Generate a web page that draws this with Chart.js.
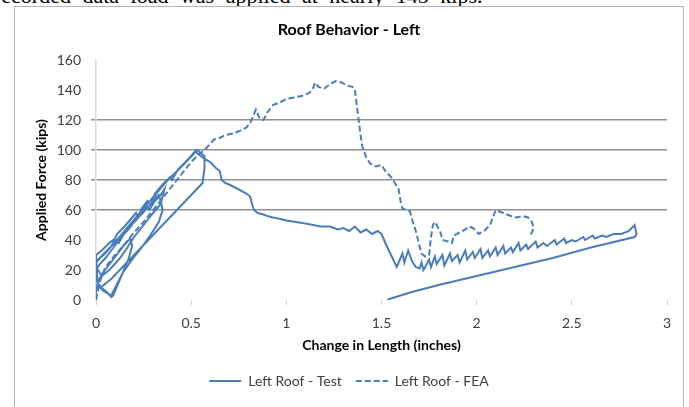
<!DOCTYPE html>
<html>
<head>
<meta charset="utf-8">
<script src="https://cdn.jsdelivr.net/npm/chart.js@4.4.1/dist/chart.umd.min.js"></script>
<style>
  body { margin: 0; background: #fff; width: 689px; height: 407px; overflow: hidden; position: relative; }
  #above { position: absolute; left: -6px; top: -17px; font: 22px "Liberation Serif"; white-space: nowrap; color: #000; word-spacing: 6px; }
  #frame { position: absolute; left: 14px; top: 6px; width: 670px; height: 420px; border: 1px solid #b5b5b5; background: #fff; box-sizing: border-box; }
  canvas { position: absolute; left: 0; top: 0; }
</style>
</head>
<body>
<div id="above">recorded data load was applied at nearly 145 kips.</div>
<div id="frame"></div>
<canvas id="graphique" width="689" height="407"></canvas>
<script>
// Left Roof - Test (solid), [inches, kips], in test order
const testLoops = [
  [0.00, 0], [0.00, 6], [0.01, 12], [0.03, 17], [0.06, 22], [0.09, 27], [0.12, 32], [0.15, 37], [0.18, 41],
  [0.19, 36], [0.17, 27], [0.14, 18], [0.11, 9], [0.09, 3], [0.08, 2], [0.06, 5], [0.03, 8], [0.01, 11], [0.00, 14],
  [0.00, 20], [0.02, 24], [0.05, 28], [0.08, 33], [0.11, 38], [0.14, 43], [0.17, 47], [0.20, 52], [0.23, 56],
  [0.26, 60], [0.29, 64], [0.31, 68], [0.33, 70], [0.34, 66], [0.35, 60], [0.33, 52], [0.29, 44], [0.24, 35],
  [0.19, 27], [0.14, 18], [0.10, 8], [0.08, 3], [0.04, 6], [0.01, 10], [0.00, 18],
  [0.00, 26], [0.04, 30], [0.07, 34], [0.10, 40], [0.12, 38], [0.15, 45], [0.18, 50], [0.21, 53], [0.24, 58],
  [0.27, 62], [0.28, 60], [0.31, 66], [0.34, 70], [0.36, 74], [0.34, 64], [0.30, 58], [0.25, 50], [0.20, 42],
  [0.16, 34], [0.12, 27], [0.07, 20], [0.03, 16], [0.00, 22],
  [0.00, 25], [0.02, 28], [0.05, 32], [0.09, 37], [0.13, 43], [0.17, 49], [0.21, 55], [0.25, 61], [0.29, 67],
  [0.33, 73], [0.37, 79], [0.41, 84], [0.45, 89], [0.48, 93], [0.51, 97], [0.53, 100], [0.55, 98], [0.57, 96],
  [0.57, 88], [0.56, 78], [0.50, 70], [0.44, 62], [0.38, 54], [0.32, 46], [0.26, 38], [0.20, 30], [0.14, 22],
  [0.08, 14], [0.03, 9], [0.01, 8],
  [0.00, 30], [0.03, 33], [0.07, 38], [0.10, 41], [0.11, 44], [0.15, 49], [0.19, 55], [0.21, 58], [0.22, 55],
  [0.24, 61], [0.27, 66], [0.29, 64], [0.31, 71], [0.35, 77], [0.39, 82], [0.40, 80], [0.43, 87], [0.47, 92],
  [0.50, 96], [0.52, 99], [0.54, 97]
];
const testDecline = [
  [0.57, 94], [0.60, 92], [0.63, 88], [0.65, 86], [0.66, 80], [0.68, 78], [0.70, 77], [0.73, 75], [0.76, 73],
  [0.79, 71], [0.81, 69], [0.82, 64], [0.83, 60], [0.85, 58], [0.88, 57], [0.90, 56], [0.93, 55], [0.97, 54],
  [1.00, 53], [1.05, 52], [1.10, 51], [1.14, 50], [1.18, 49], [1.23, 49], [1.27, 47], [1.30, 48], [1.33, 46],
  [1.36, 49], [1.39, 45], [1.42, 47], [1.45, 44], [1.48, 46], [1.50, 44], [1.52, 38], [1.55, 30], [1.58, 22],
  [1.60, 28], [1.61, 31], [1.62, 25], [1.64, 33], [1.66, 26], [1.68, 22], [1.70, 21], [1.71, 25], [1.72, 20], [1.73, 22]
];
const testTeeth = [
  [1.75, 27], [1.76, 22], [1.78, 29], [1.79, 24], [1.82, 30], [1.83, 23], [1.86, 31], [1.87, 26], [1.90, 30],
  [1.91, 25], [1.94, 33], [1.95, 27], [1.98, 32], [1.99, 28], [2.02, 34], [2.03, 28], [2.06, 33], [2.07, 29],
  [2.10, 35], [2.11, 30], [2.14, 36], [2.15, 31], [2.18, 35], [2.19, 32], [2.22, 38], [2.23, 33], [2.26, 37],
  [2.27, 34], [2.31, 39], [2.32, 35], [2.35, 38], [2.37, 36], [2.41, 40], [2.42, 37], [2.46, 41], [2.47, 38],
  [2.50, 40], [2.52, 39], [2.56, 42], [2.57, 40], [2.61, 43], [2.62, 41], [2.66, 43], [2.68, 42], [2.72, 44],
  [2.76, 44], [2.80, 46], [2.83, 50], [2.84, 44], [2.83, 42]
];
const testUnload = [
  [2.60, 35], [2.40, 28], [2.20, 22], [2.00, 16], [1.80, 10], [1.65, 5], [1.55, 1], [1.53, 0]
];

// Left Roof - FEA (dashed)
const feaRise = [
  [0.00, 0], [0.02, 12], [0.05, 22], [0.10, 30], [0.15, 37], [0.20, 45], [0.25, 52], [0.30, 60], [0.35, 68],
  [0.40, 76], [0.45, 84], [0.50, 92], [0.54, 97], [0.57, 100], [0.60, 104], [0.62, 107], [0.65, 108], [0.68, 110],
  [0.72, 111], [0.76, 113], [0.79, 115], [0.81, 118], [0.83, 124], [0.84, 127], [0.86, 121], [0.88, 120],
  [0.90, 125], [0.93, 130], [0.97, 132], [1.00, 134], [1.04, 135], [1.08, 136], [1.12, 138], [1.14, 141],
  [1.15, 145], [1.17, 142], [1.20, 141], [1.23, 144], [1.26, 146], [1.29, 145], [1.32, 143], [1.35, 142]
];
const feaDrop = [
  [1.36, 140], [1.37, 130], [1.38, 120], [1.39, 110], [1.40, 102], [1.42, 95], [1.44, 91], [1.47, 89], [1.50, 90],
  [1.52, 86], [1.55, 82], [1.57, 78], [1.59, 74], [1.60, 66], [1.61, 61], [1.63, 60], [1.65, 59], [1.66, 54],
  [1.68, 46], [1.70, 36], [1.71, 31], [1.73, 29], [1.75, 30], [1.76, 42], [1.77, 50], [1.78, 52], [1.79, 50],
  [1.81, 45], [1.82, 40], [1.85, 39], [1.87, 38], [1.88, 43], [1.91, 45], [1.94, 47], [1.96, 49], [1.98, 48],
  [2.00, 46], [2.01, 44], [2.04, 46], [2.07, 50], [2.10, 60], [2.12, 59], [2.14, 58], [2.18, 56], [2.21, 55],
  [2.24, 56], [2.27, 55], [2.29, 52], [2.30, 48], [2.29, 45], [2.28, 43]
];

const xTickLabels = ["0", "0.5", "1", "1.5", "2", "2.5", "3"];
const yTickLabels = ["0", "20", "40", "60", "80", "100", "120", "140", "160"];
const gridValues = [60, 80, 100, 120];

const blue = "#4a7ebb";
const toPoints = segs => [].concat(...segs).map(p => ({ x: p[0], y: p[1] }));

new Chart(document.getElementById("graphique").getContext("2d"), {
  type: "scatter",
  data: {
    datasets: [{
      label: "Left Roof - Test",
      data: toPoints([testLoops, testDecline, testTeeth, testUnload]),
      showLine: true,
      borderColor: blue,
      backgroundColor: blue,
      borderWidth: 2,
      pointRadius: 0,
      tension: 0
    }, {
      label: "Left Roof - FEA",
      data: toPoints([feaRise, feaDrop]),
      showLine: true,
      borderColor: blue,
      backgroundColor: blue,
      borderWidth: 2,
      borderDash: [6, 3],
      pointRadius: 0,
      tension: 0
    }]
  },
  options: {
    responsive: false,
    animation: false,
    devicePixelRatio: 1,
    layout: { padding: { left: 14, right: 5, top: 6, bottom: 9 } },
    plugins: {
      tooltip: { enabled: false },
      title: {
        display: true,
        text: "Roof Behavior - Left",
        color: "#000",
        font: { family: "Lato", size: 16, weight: "bold" },
        padding: { top: 14.4, bottom: 20.4 }
      },
      legend: {
        position: "bottom",
        labels: {
          color: "#404040",
          font: { family: "Lato", size: 14 },
          usePointStyle: true,
          pointStyle: "line",
          pointStyleWidth: 32,
          padding: 14,
          generateLabels: chart =>
            Chart.defaults.plugins.legend.labels.generateLabels(chart).map((item, i) =>
              Object.assign(item, {
                pointStyle: "line",
                strokeStyle: blue,
                lineWidth: 2,
                lineDash: chart.data.datasets[i].borderDash || []
              }))
        }
      }
    },
    scales: {
      x: {
        type: "linear",
        min: 0,
        max: 3,
        ticks: {
          stepSize: 0.5,
          color: "#404040",
          font: { family: "Lato", size: 14 },
          padding: 10,
          maxRotation: 0,
          callback: (v, i) => xTickLabels[i]
        },
        grid: { drawOnChartArea: false, drawTicks: true, tickLength: 5, color: "#d0d0d0" },
        border: { display: false },
        title: {
          display: true,
          text: "Change in Length (inches)",
          color: "#000",
          font: { family: "Lato", size: 14, weight: "bold" },
          padding: { top: 0, bottom: 6.6 }
        },
        afterFit: s => { s.height = 60; }
      },
      y: {
        min: 0,
        max: 160,
        ticks: {
          stepSize: 20,
          color: "#404040",
          font: { family: "Lato", size: 14 },
          padding: 10,
          callback: (v, i) => yTickLabels[i]
        },
        grid: {
          tickLength: 5,
          lineWidth: 1.5,
          color: c => (c.tick && gridValues.includes(c.tick.value)) ? "#8f8f8f" : "rgba(0,0,0,0)"
        },
        border: { display: true, color: "#d9d9d9", width: 1.5 },
        title: {
          display: true,
          text: "Applied Force (kips)",
          color: "#000",
          font: { family: "Lato", size: 14, weight: "bold" },
          padding: { top: 18.6, bottom: 0 }
        },
        afterFit: s => { s.width = 82; }
      },
      yRight: {
        position: "right",
        min: 0,
        max: 160,
        ticks: { display: false },
        grid: { display: false },
        border: { display: false },
        afterFit: s => { s.width = 17; }
      }
    }
  }
});
</script>
</body>
</html>
